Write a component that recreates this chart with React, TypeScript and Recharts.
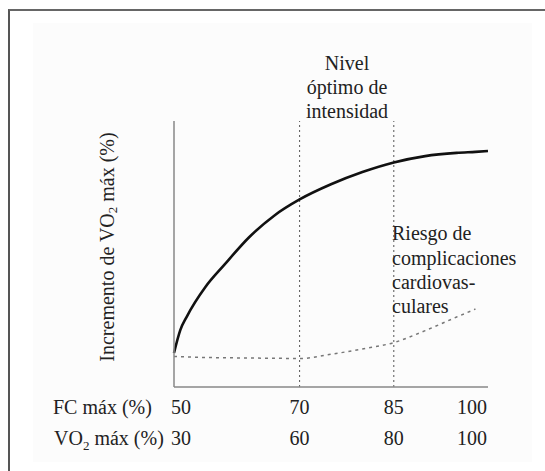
import React from 'react';
import { LineChart, Line, XAxis, YAxis, ReferenceLine } from 'recharts';

// FC máx (%) along the x axis, curve heights (0-100, arbitrary units)
const fcPct = [50, 51, 52, 55, 58, 62, 66, 70, 75, 80, 85, 90, 95, 98, 100];
const vo2Gain = [12.8, 21.4, 26.3, 37.6, 45.9, 56.4, 64.5, 70.5, 76.2, 80.8, 84.4, 86.8, 88.0, 88.4, 88.7];
const cardioRisk = [11.5, 11.4, 11.3, 11.1, 11.0, 10.9, 10.8, 10.7, 12.3, 14.3, 16.7, 21.2, 26.3, 29.3, null];

// tick labels (two rows under the axis)
const fcTicks = [50, 70, 85, 100];
const vo2Ticks = [30, 60, 80, 100];

// bounds of the optimal intensity zone
const zoneBounds = [70, 85];

const data = fcPct.map((fc, i) => ({ fc, vo2: vo2Gain[i], risk: cardioRisk[i] }));

const FONT = 'Liberation Serif';
const INK = '#222';

// svg text with the serif face set right on the element
const T = (props: any) => <text fontFamily={FONT} fontSize={20} fill={INK} {...props} />;

const DualTick = (props: any) => {
  const { x, y, payload } = props;
  const i = fcTicks.indexOf(payload.value);
  const last = fcTicks.length - 1;
  const anchor = i === 0 ? 'start' : i === last ? 'end' : 'middle';
  const dx = i === 0 ? -3 : i === last ? -1 : 0;
  return (
    <g>
      <T x={x + dx} y={y + 27} textAnchor={anchor}>{payload.value}</T>
      <T x={x + dx} y={y + 58} textAnchor={anchor}>{vo2Ticks[i]}</T>
    </g>
  );
};

export default function App() {
  return (
    <div style={{ position: 'relative', width: 545, height: 471, background: '#fff', overflow: 'hidden' }}>
      <style>{'body{margin:0;overflow:hidden}'}</style>
      {/* faint panel + cropped frame */}
      <div style={{ position: 'absolute', left: 33, top: 23, width: 499, height: 439, background: '#fcfcfc' }} />
      <div
        style={{
          position: 'absolute', left: 8, top: 9, right: 0, bottom: 0,
          borderLeft: '2px solid #555', borderTop: '2px solid #666',
        }}
      />
      <div style={{ position: 'absolute', left: 0, top: 0 }}>
        <LineChart width={545} height={471} data={data} margin={{ top: 121, right: 57, left: 0, bottom: 0 }}>
          <XAxis
            dataKey="fc"
            type="number"
            domain={[50, 100]}
            ticks={fcTicks}
            interval={0}
            tick={<DualTick />}
            tickLine={false}
            tickSize={0}
            tickMargin={0}
            axisLine={{ stroke: '#888', strokeWidth: 1.5 }}
            height={84}
          />
          <YAxis
            type="number"
            domain={[0, 100]}
            width={174}
            tick={false}
            tickLine={false}
            axisLine={{ stroke: '#888', strokeWidth: 1.5 }}
          />
          {zoneBounds.map((b) => (
            <ReferenceLine key={b} x={b} stroke="#555" strokeWidth={1} strokeDasharray="2 3" />
          ))}
          <Line
            dataKey="risk"
            type="monotone"
            stroke="#777"
            strokeWidth={1.5}
            strokeDasharray="3 4"
            dot={false}
            isAnimationActive={false}
          />
          <Line
            dataKey="vo2"
            type="monotone"
            stroke="#111"
            strokeWidth={2.6}
            dot={false}
            isAnimationActive={false}
          />
        </LineChart>
      </div>
      <svg width={545} height={471} style={{ position: 'absolute', left: 0, top: 0, pointerEvents: 'none' }}>
        <T x={347} textAnchor="middle">
          <tspan x={347} y={70}>Nivel</tspan>
          <tspan x={347} y={94}>óptimo de</tspan>
          <tspan x={347} y={118}>intensidad</tspan>
        </T>
        <T>
          <tspan x={392} y={240}>Riesgo de</tspan>
          <tspan x={392} y={264.5}>complicaciones</tspan>
          <tspan x={392} y={289}>cardiovas-</tspan>
          <tspan x={392} y={313}>culares</tspan>
        </T>
        <T transform="translate(107,247) rotate(-90)" textAnchor="middle" dominantBaseline="central">
          Incremento de VO<tspan fontSize={13} dy={5}>2</tspan>
          <tspan dy={-5}> máx (%)</tspan>
        </T>
        <T x={53} y={414}>FC máx (%)</T>
        <T x={54} y={445}>
          VO<tspan fontSize={13} dy={5}>2</tspan>
          <tspan dy={-5}> máx (%)</tspan>
        </T>
      </svg>
    </div>
  );
}
